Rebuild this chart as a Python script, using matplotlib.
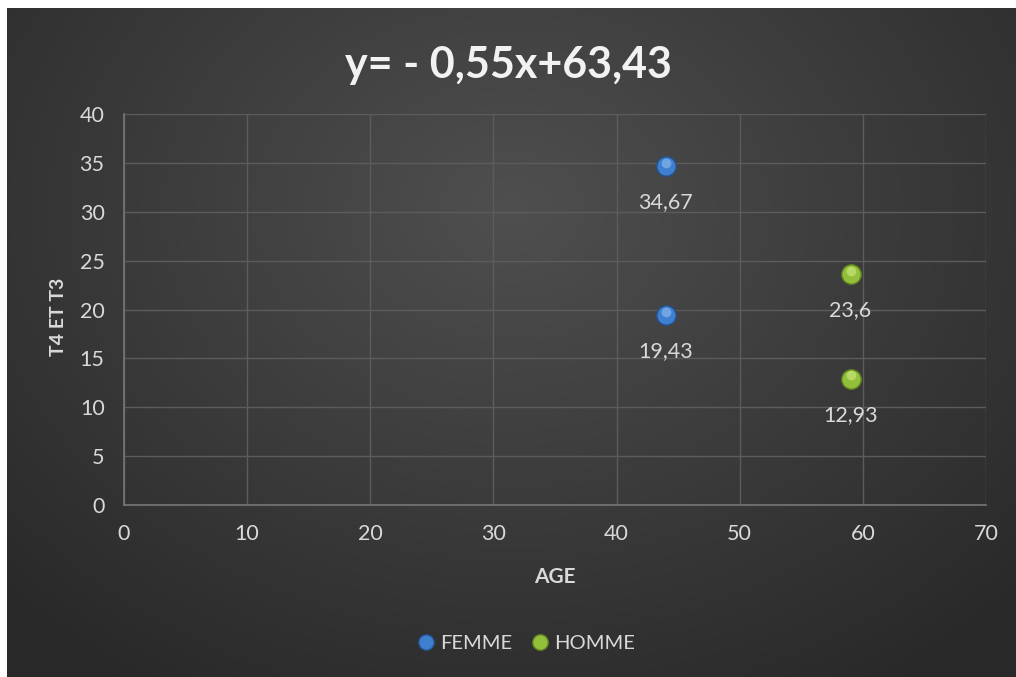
import numpy as np
import matplotlib.pyplot as plt

# Age vs T4/T3 values, by sex
age_femme = [44, 44]
t4t3_femme = [34.67, 19.43]
age_homme = [59, 59]
t4t3_homme = [23.6, 12.93]
labels_femme = ['34,67', '19,43']
labels_homme = ['23,6', '12,93']

title = 'y= - 0,55x+63,43'
plt.rcParams['font.family'] = ['Lato', 'DejaVu Sans']

fig = plt.figure(figsize=(10.16, 6.77), dpi=100)
fig.patch.set_facecolor('white')

# dark radial background
bg = fig.add_axes([7 / 1016, 0, 1 - 7 / 1016, 1 - 8 / 677])
bg.set_axis_off()
yy, xx = np.mgrid[0:1:400j, 0:1:600j]
r = np.sqrt(((xx - 0.5) / 0.75) ** 2 + ((yy - 0.3) / 0.9) ** 2)
shade = np.clip(0.31 - 0.16 * r, 0.16, 0.31)
bg.imshow(np.dstack([shade] * 3), extent=[0, 1, 0, 1], aspect='auto', origin='upper')

ax = fig.add_axes([124 / 1016, 1 - 505 / 677, (986 - 124) / 1016, (505 - 114) / 677])
ax.patch.set_alpha(0)

txt = '#d9d9d9'
grid = '#5c5c5c'


def sphere(x, y, base, edge, light, label):
    ax.plot(x, y, 'o', ms=14, mfc=base, mec=edge, mew=1.0, ls='none', zorder=4, label=label)
    ax.plot(x, [v + 0.35 for v in y], 'o', ms=7, mfc=light, mec='none', alpha=0.55, ls='none', zorder=5)


sphere(age_femme, t4t3_femme, '#3f7fd0', '#24508a', '#9cc4f2', 'FEMME')
sphere(age_homme, t4t3_homme, '#93c03a', '#5f8020', '#d3ef8e', 'HOMME')

for x, y, s in zip(age_femme + age_homme, t4t3_femme + t4t3_homme, labels_femme + labels_homme):
    ax.annotate(s, (x, y), xytext=(0, -26), textcoords='offset points', ha='center', va='center',
                color=txt, fontsize=15.5)

ax.set_xlim(0, 70)
ax.set_ylim(0, 40)
ax.set_xticks(range(0, 71, 10))
ax.set_yticks(range(0, 41, 5))
ax.grid(True, color=grid, lw=1)
ax.set_axisbelow(True)
ax.tick_params(colors=txt, labelsize=15.5, length=0)
ax.tick_params(axis='x', pad=14)
ax.tick_params(axis='y', pad=14)
for side in ['top', 'right']:
    ax.spines[side].set_visible(False)
for side in ['left', 'bottom']:
    ax.spines[side].set_color('#767676')
    ax.spines[side].set_linewidth(1.2)

ax.set_xlabel('AGE', color=txt, fontsize=15, fontweight='bold', labelpad=16)
ax.set_ylabel('T4 ET T3', color=txt, fontsize=14, fontweight='bold')
ax.yaxis.set_label_coords(-0.066, 0.48)

fig.text(0.5, 1 - 65 / 677, title, ha='center', va='center', color='#f2f2f2',
         fontsize=31, fontweight='bold')

leg = ax.legend(loc='center', bbox_to_anchor=(0.46, -0.354), ncol=2, frameon=False,
                fontsize=14.5, handletextpad=-0.3, columnspacing=0.4, markerscale=0.8)
for t in leg.get_texts():
    t.set_color(txt)

fig.savefig('out.png', dpi=100, facecolor=fig.get_facecolor())
